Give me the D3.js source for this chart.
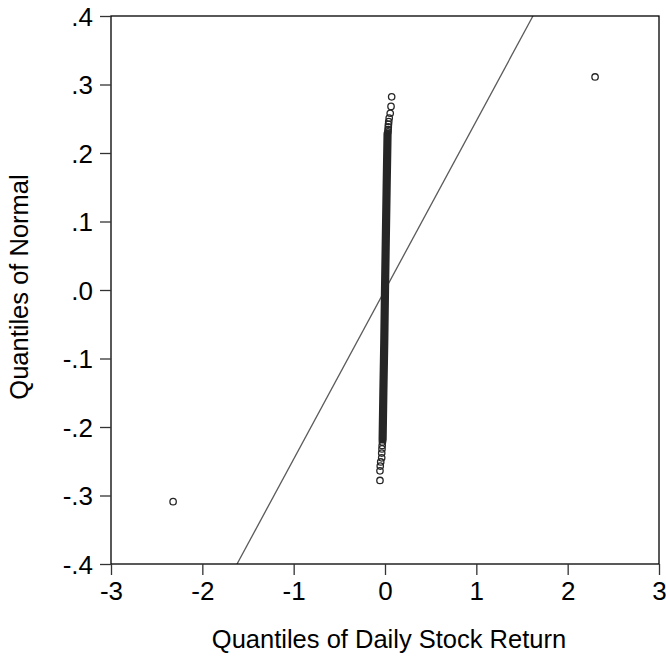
<!DOCTYPE html>
<html><head><meta charset="utf-8">
<script src="https://cdn.jsdelivr.net/npm/d3@7/dist/d3.min.js"></script>
<style>body{margin:0;background:#fff}svg{display:block}text{font-family:"Liberation Sans",Arial,sans-serif;fill:#000}</style>
</head><body><svg id="c" width="666" height="656"></svg>
<script>
// Axis ticks
const xTicks = [-3, -2, -1, 0, 1, 2, 3];
const xTickLabels = ["-3", "-2", "-1", "0", "1", "2", "3"];
const yTicks = [-0.4, -0.3, -0.2, -0.1, 0, 0.1, 0.2, 0.3, 0.4];
const yTickLabels = ["-.4", "-.3", "-.2", "-.1", ".0", ".1", ".2", ".3", ".4"];
// Dense body of the QQ points (centreline)
const bodyX = [-0.026, -0.018, -0.008, 0.000, 0.009, 0.018, 0.028];
const bodyY = [-0.218, -0.150, -0.075, 0.000, 0.075, 0.150, 0.228];
// Individual tail points
const tailX = [0.073, 0.066, 0.057, 0.046, 0.041, 0.038, 0.036, 0.034, 0.032,
               -0.028, -0.031, -0.033, -0.036, -0.036, -0.047, -0.052, -0.055, -0.055];
const tailY = [0.282, 0.268, 0.258, 0.251, 0.246, 0.242, 0.238, 0.234, 0.231,
               -0.222, -0.227, -0.232, -0.238, -0.245, -0.251, -0.257, -0.264, -0.278];
// Outliers
const outX = [2.30, -2.32];
const outY = [0.311, -0.309];
// Reference line endpoints
const refX = [-1.62, 1.62];
const refY = [-0.4, 0.4];

const svg = d3.select("#c");
const L = 111, R = 659, T = 16, B = 564;
const x = d3.scaleLinear().domain([-3, 3]).range([L, R]);
const y = d3.scaleLinear().domain([-0.4, 0.4]).range([B, T]);
const FONT = '"Liberation Sans",Arial,sans-serif';

const g = svg.append("g");
const clip = svg.append("defs").append("clipPath").attr("id", "pc");
clip.append("rect").attr("x", L).attr("y", T).attr("width", R - L).attr("height", B - T);

// reference line
g.append("line").attr("clip-path", "url(#pc)")
  .attr("x1", x(refX[0])).attr("y1", y(refY[0])).attr("x2", x(refX[1])).attr("y2", y(refY[1]))
  .attr("stroke", "#5a5a5a").attr("stroke-width", 1.3);

// dense body
const body = bodyX.map((v, i) => [v, bodyY[i]]);
g.append("path").datum(body)
  .attr("d", d3.line().x(d => x(d[0])).y(d => y(d[1])))
  .attr("fill", "none").attr("stroke", "#262626").attr("stroke-width", 8.2).attr("stroke-linecap", "round");

const pts = tailX.map((v, i) => [v, tailY[i]]).concat(outX.map((v, i) => [v, outY[i]]));
g.selectAll("circle.p").data(pts).join("circle").attr("class", "p")
  .attr("cx", d => x(d[0])).attr("cy", d => y(d[1])).attr("r", 3.2)
  .attr("fill", "none").attr("stroke", "#262626").attr("stroke-width", 1.3);

// frame
svg.append("rect").attr("x", L).attr("y", T).attr("width", R - L).attr("height", B - T)
  .attr("fill", "none").attr("stroke", "#000").attr("stroke-width", 1.3);

// x axis
const xa = svg.append("g").attr("transform", `translate(0,${B})`)
  .call(d3.axisBottom(x).tickValues(xTicks).tickSize(11).tickSizeOuter(0)
    .tickFormat((d, i) => xTickLabels[i]));
xa.select(".domain").remove();
xa.selectAll("line").attr("stroke", "#333").attr("stroke-width", 1.3);
xa.selectAll("text").attr("font-size", 26).attr("dy", 0).attr("y", 36)
  .style("font-family", FONT).attr("fill", "#000");

const ya = svg.append("g").attr("transform", `translate(${L},0)`)
  .call(d3.axisLeft(y).tickValues(yTicks).tickSize(11).tickSizeOuter(0)
    .tickFormat((d, i) => yTickLabels[i]));
ya.select(".domain").remove();
ya.selectAll("line").attr("stroke", "#333").attr("stroke-width", 1.3);
ya.selectAll("text").attr("font-size", 26).attr("x", -18).attr("dy", "0.36em")
  .style("font-family", FONT).attr("fill", "#000");

svg.append("text").attr("x", 389).attr("y", 648).attr("text-anchor", "middle")
  .attr("font-size", 25.5).text("Quantiles of Daily Stock Return");
svg.append("text").attr("transform", `translate(28,287) rotate(-90)`)
  .attr("text-anchor", "middle").attr("font-size", 25.5).text("Quantiles of Normal");
</script></body></html>
